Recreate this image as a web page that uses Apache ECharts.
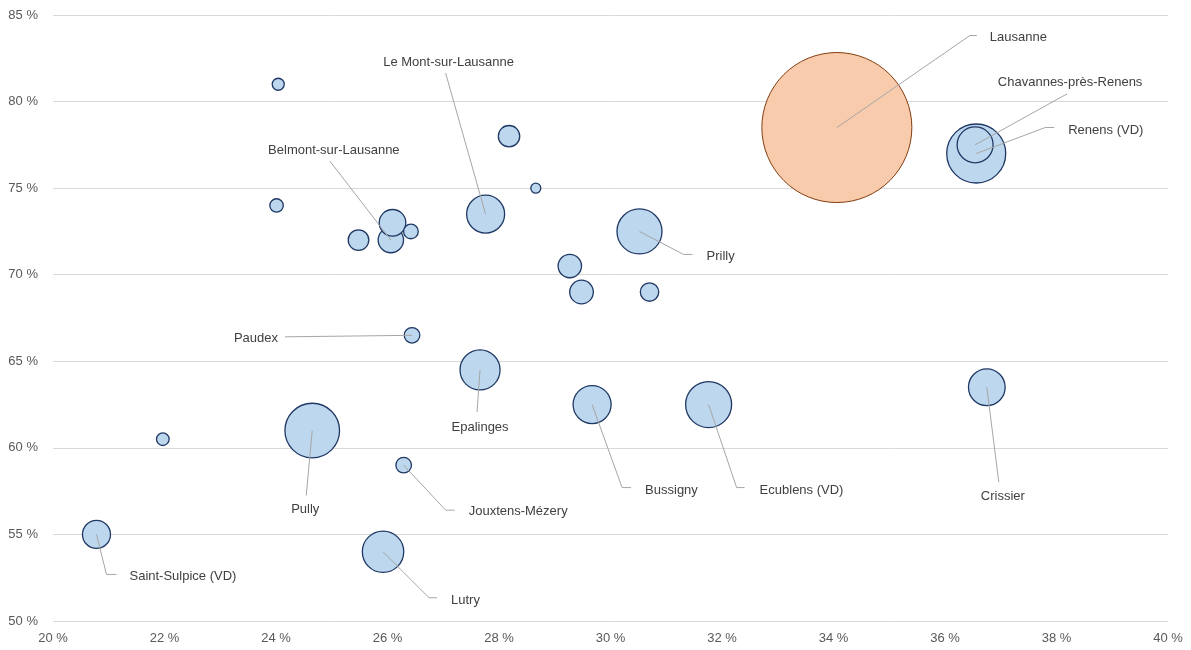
<!DOCTYPE html>
<html>
<head>
<meta charset="utf-8">
<script src="https://cdn.jsdelivr.net/npm/echarts@6/dist/echarts.min.js"></script>
<style>
html,body{margin:0;padding:0;background:#fff;}
#chart{width:1191px;height:650px;}
</style>
</head>
<body>
<div id="chart"></div>
<script>
// ---- data ----
var names = ['Lausanne','Renens (VD)','Chavannes-près-Renens','Le Mont-sur-Lausanne','Belmont-sur-Lausanne','Prilly','Paudex','Pully','Jouxtens-Mézery','Epalinges','Bussigny','Ecublens (VD)','Crissier','Saint-Sulpice (VD)','Lutry','','','','','','','','','','',''];
var xValues = [34.06,36.56,36.54,27.76,26.06,30.52,26.44,24.65,26.29,27.66,29.67,31.76,36.75,20.78,25.92,24.04,28.18,28.66,24.01,26.09,26.42,25.48,29.27,29.48,30.70,21.97];
var yValues = [78.5,77.0,77.5,73.5,72.0,72.5,66.5,61.0,59.0,64.5,62.5,62.5,63.5,55.0,54.0,81.0,78.0,75.0,74.0,73.0,72.5,72.0,70.5,69.0,69.0,60.5];
var population = [140000,21660,8060,8990,4000,12600,1510,18550,1510,9960,8990,13170,8370,4880,10660,900,2850,620,1120,4400,1340,2640,3410,3480,2110,990];
var xTicks = {min:20,max:40,interval:2};
var yTicks = {min:50,max:85,interval:5};

// ---- label placement (pixel offsets from bubble centre) ----
var labelLayout = {
  'Lausanne':[[133,-92],[140,-92],[153,-90],'left'],
  'Chavannes-près-Renens':[null,[92,-51],[95,-62],'center'],
  'Renens (VD)':[[69,-26],[78,-26],[92,-23],'left'],
  'Le Mont-sur-Lausanne':[null,[-40,-141],[-37,-152],'center'],
  'Belmont-sur-Lausanne':[null,[-61,-79],[-57,-90],'center'],
  'Prilly':[[44,23],[53,23],[67,25],'left'],
  'Paudex':[null,[-127,1.5],[-134,3],'right'],
  'Pully':[null,[-6,65],[-7,79],'center'],
  'Jouxtens-Mézery':[[42,45],[51,45],[65,46],'left'],
  'Epalinges':[null,[-3,42],[0,57],'center'],
  'Bussigny':[[30,83],[39,83],[53,86],'left'],
  'Ecublens (VD)':[[28,83],[36,83],[51,86],'left'],
  'Crissier':[null,[12,95],[16,109],'center'],
  'Saint-Sulpice (VD)':[[10,40],[20,40],[33,42],'left'],
  'Lutry':[[46,46],[54,46],[68,49],'left']
};

var REF_POP = 140000, REF_DIAM = 150;
function diam(p){ return REF_DIAM*Math.sqrt(p/REF_POP); }

var blueData = [], orangeData = [], labelData = [];
for (var i=0;i<names.length;i++){
  var item = {name:names[i], value:[xValues[i], yValues[i], population[i]]};
  if (names[i]==='Lausanne') orangeData.push(item); else blueData.push(item);
  if (names[i] && labelLayout[names[i]]) labelData.push({name:names[i], value:[xValues[i], yValues[i]]});
}

var FONT = 'Liberation Sans, Arial, sans-serif';
var chart = echarts.init(document.getElementById('chart'), null, {renderer:'canvas'});
chart.setOption({
  animation:false,
  backgroundColor:'#ffffff',
  grid:{left:53,right:23,top:15,bottom:29,containLabel:false},
  xAxis:{
    type:'value', min:xTicks.min, max:xTicks.max, interval:xTicks.interval,
    axisLine:{show:false}, axisTick:{show:false}, splitLine:{show:false},
    axisLabel:{color:'#595959', fontSize:13, fontFamily:FONT, margin:11, formatter:function(v){return v+' %';}}
  },
  yAxis:{
    type:'value', min:yTicks.min, max:yTicks.max, interval:yTicks.interval,
    axisLine:{show:false}, axisTick:{show:false},
    splitLine:{show:true, lineStyle:{color:'#D9D9D9', width:1}},
    axisLabel:{color:'#595959', fontSize:13, fontFamily:FONT, margin:15, formatter:function(v){return v+' %';}}
  },
  series:[
    {
      type:'scatter', name:'Lausanne', data:orangeData, z:2,
      symbolSize:function(v){return diam(v[2]);},
      itemStyle:{color:'#F8CBAD', borderColor:'#843C0C', borderWidth:1, opacity:1}
    },
    {
      type:'scatter', name:'communes', data:blueData, z:3,
      symbolSize:function(v){return diam(v[2]);},
      itemStyle:{color:'#BDD7EE', borderColor:'#1F3864', borderWidth:1.3, opacity:1}
    },
    {
      type:'custom', name:'labels', data:labelData, z:10, clip:false,
      encode:{x:0,y:1},
      renderItem:function(params, api){
        var name = labelData[params.dataIndex].name;
        var L = labelLayout[name];
        var c = api.coord([api.value(0), api.value(1)]);
        var pts = [[c[0],c[1]]];
        if (L[0]) pts.push([c[0]+L[0][0], c[1]+L[0][1]]);
        pts.push([c[0]+L[1][0], c[1]+L[1][1]]);
        return {
          type:'group',
          children:[
            {type:'polyline', shape:{points:pts}, style:{stroke:'#A6A6A6', lineWidth:1, fill:null}},
            {type:'text', style:{text:name, x:c[0]+L[2][0], y:c[1]+L[2][1], textAlign:L[3], textVerticalAlign:'middle', fill:'#404040', font:'13px '+FONT}}
          ]
        };
      }
    }
  ]
});
</script>
</body>
</html>
